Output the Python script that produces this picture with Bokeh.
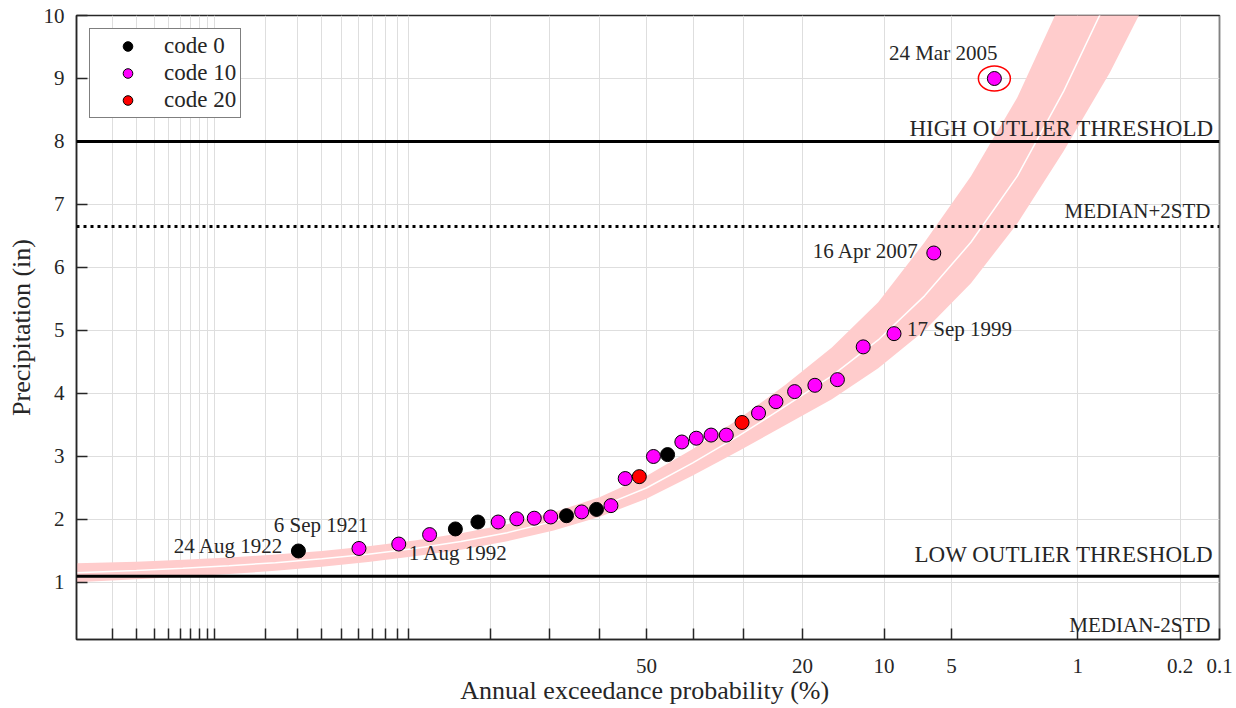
from statistics import NormalDist
from bokeh.plotting import figure
from bokeh.models import Range1d, FixedTicker, Span, Legend, LegendItem
from bokeh.core.properties import value
from bokeh.embed import file_html
from bokeh.resources import INLINE

# ---------------- data ----------------
exceed_pct = [96.97, 93.94, 90.91, 87.88, 84.85, 81.82, 78.79, 75.76, 72.73, 69.70,
              66.67, 63.64, 60.61, 57.58, 54.55, 51.52, 48.48, 45.45, 42.42, 39.39,
              36.36, 33.33, 30.30, 27.27, 24.24, 21.21, 18.18, 15.15, 12.12, 9.09,
              6.06, 3.03]
precip_in = [1.50, 1.54, 1.61, 1.76, 1.85, 1.96, 1.96, 2.01, 2.02, 2.04,
             2.06, 2.12, 2.16, 2.22, 2.65, 2.68, 3.00, 3.03, 3.23, 3.29,
             3.34, 3.34, 3.54, 3.69, 3.87, 4.03, 4.13, 4.22, 4.74, 4.95,
             6.23, 9.00]
codes = [0, 10, 10, 10, 0, 0, 10, 10, 10, 10,
         0, 10, 0, 10, 10, 20, 10, 0, 10, 10,
         10, 10, 20, 10, 10, 10, 10, 10, 10, 10,
         10, 10]

annot_text = ["24 Aug 1922", "6 Sep 1921", "1 Aug 1992", "17 Sep 1999", "16 Apr 2007", "24 Mar 2005"]
annot_point = [0, 1, 2, 29, 30, 31]
highlight_point = 31

# fitted frequency curve and its confidence band (exceedance %, inches)
curve_pct = [99.894, 99.702, 99.379, 98.778, 97.725, 95.994, 93.319, 89.435, 84.134, 77.337,
             69.146, 59.871, 50.0, 40.129, 30.854, 22.663, 15.866, 10.565, 6.681, 4.006,
             2.275, 1.222, 0.621, 0.298]
curve_mid = [1.155, 1.19, 1.225, 1.265, 1.315, 1.375, 1.45, 1.54, 1.65, 1.79,
             1.97, 2.20, 2.50, 2.90, 3.33, 3.80, 4.28, 4.85, 5.55, 6.40,
             7.45, 8.80, 10.35, 12.10]
curve_up = [1.305, 1.33, 1.36, 1.395, 1.445, 1.50, 1.575, 1.665, 1.78, 1.925,
            2.115, 2.355, 2.69, 3.12, 3.60, 4.14, 4.73, 5.45, 6.40, 7.45,
            8.70, 10.30, 12.10, 14.10]
curve_low = [1.005, 1.05, 1.09, 1.135, 1.185, 1.25, 1.325, 1.415, 1.52, 1.655,
             1.825, 2.045, 2.33, 2.70, 3.09, 3.50, 3.91, 4.40, 5.00, 5.75,
             6.70, 7.85, 9.10, 10.55]

high_outlier = 8.0
low_outlier = 1.10
median_plus_2std = 6.65
median_minus_2std = 0.095

tick_pct = [99.8, 99.7, 99.6, 99.5, 99.4, 99.3, 99.2, 99.1, 99, 98, 97, 96, 95, 94, 93, 92, 91, 90,
            80, 70, 60, 50, 40, 30, 20, 10, 5, 1, 0.2, 0.1]
tick_text = ["", "", "", "", "", "", "", "", "", "", "", "", "", "", "", "", "", "",
             "", "", "", "50", "", "", "20", "10", "5", "1", "0.2", "0.1"]
xlim_pct = [99.894, 0.1]
y_ticks = [1, 2, 3, 4, 5, 6, 7, 8, 9, 10]
y_max = 10

# ---------------- helpers ----------------
nd = NormalDist()


def zq(p):
    return nd.inv_cdf(1 - p / 100.0)


FONT = "Liberation Serif"
AX = "#262626"

xs = [zq(p) for p in exceed_pct]
cz = [zq(p) for p in curve_pct]

p = figure(width=1236, height=708, output_backend="svg", toolbar_location=None,
           title=None,
           x_range=Range1d(zq(xlim_pct[0]), zq(xlim_pct[1]) + 1e-9),
           y_range=Range1d(median_minus_2std, y_max),
           min_border_left=76, min_border_right=17, min_border_top=15, min_border_bottom=69)
p.background_fill_color = "white"
p.border_fill_color = "white"
p.outline_line_color = AX
p.outline_line_width = 1.5

# axes
tick_z = [zq(t) for t in tick_pct]
p.xaxis.ticker = FixedTicker(ticks=tick_z)
p.xaxis.major_label_overrides = {z: s for z, s in zip(tick_z, tick_text)}
p.yaxis.ticker = FixedTicker(ticks=y_ticks)
for ax in (p.xaxis[0], p.yaxis[0]):
    ax.major_tick_in = 11
    ax.major_tick_out = 0
    ax.minor_tick_in = 0
    ax.minor_tick_out = 0
    ax.axis_line_color = AX
    ax.axis_line_width = 1.5
    ax.major_tick_line_color = AX
    ax.major_tick_line_width = 1.5
    ax.major_label_text_font = FONT
    ax.major_label_text_font_size = "21px"
    ax.major_label_text_color = AX
    ax.axis_label_text_font = FONT
    ax.axis_label_text_font_size = "26px"
    ax.axis_label_text_font_style = "normal"
    ax.axis_label_text_color = AX
p.xaxis.major_label_standoff = 19
p.yaxis.major_label_standoff = 12
p.yaxis.axis_label = "Precipitation (in)"
p.yaxis.axis_label_standoff = 5
p.xaxis.axis_label = "Annual  exceedance probability (%)"
p.xaxis.axis_label_standoff = 0

p.grid.grid_line_color = "#dedede"
p.grid.grid_line_width = 1

# band and fitted curve
p.varea(x=cz, y1=curve_low, y2=curve_up, fill_color="#ffcccc", fill_alpha=1.0)
p.line(x=cz, y=curve_mid, line_color="white", line_width=1.5)

# threshold lines
p.add_layout(Span(location=high_outlier, dimension="width", line_color="black", line_width=3))
p.add_layout(Span(location=low_outlier, dimension="width", line_color="black", line_width=3))
p.add_layout(Span(location=median_plus_2std, dimension="width", line_color="black",
                  line_width=3, line_dash="3 4"))

xr = zq(xlim_pct[1])
p.text(x=[xr, xr], y=[high_outlier, low_outlier],
       text=["HIGH OUTLIER THRESHOLD", "LOW OUTLIER THRESHOLD"],
       x_offset=-6, y_offset=[-13, -22], text_align="right", text_baseline="middle",
       text_font=value(FONT), text_font_size="23px", text_color=AX)
p.text(x=[xr, xr], y=[median_plus_2std, median_minus_2std],
       text=["MEDIAN+2STD", "MEDIAN-2STD"],
       x_offset=-9, y_offset=[-16, -15], text_align="right", text_baseline="middle",
       text_font=value(FONT), text_font_size="21px", text_color=AX)

# points
colors = {0: "black", 10: "#ff00ff", 20: "#ff0000"}
renderers = {}
for c in (0, 10, 20):
    px = [x for x, k in zip(xs, codes) if k == c]
    py = [y for y, k in zip(precip_in, codes) if k == c]
    renderers[c] = p.scatter(x=px, y=py, size=14, fill_color=colors[c],
                             line_color="black", line_width=1)

# highlight ellipse
p.ellipse(x=[xs[highlight_point]], y=[precip_in[highlight_point]], width=32, height=25,
          width_units="screen", height_units="screen", fill_color=None,
          line_color="red", line_width=1.5)

# annotations
annot_dx = [-15, -38, 10, 13, -15, 3]
annot_dy = [-5, -23, 9, -5, -2, -25]
annot_align = ["right", "center", "left", "left", "right", "right"]
for t, i, dx, dy, al in zip(annot_text, annot_point, annot_dx, annot_dy, annot_align):
    p.text(x=[xs[i]], y=[precip_in[i]], text=[t], x_offset=dx, y_offset=dy,
           text_align=al, text_baseline="middle", text_font=value(FONT),
           text_font_size="21px", text_color=AX)

legend = Legend(items=[LegendItem(label="code 0", renderers=[renderers[0]]),
                       LegendItem(label="code 10", renderers=[renderers[10]]),
                       LegendItem(label="code 20", renderers=[renderers[20]])],
                location="top_left", margin=13, padding=4, spacing=1,
                glyph_width=67, glyph_height=24, label_height=24, label_standoff=3,
                border_line_color="black", border_line_width=1,
                background_fill_color="white", background_fill_alpha=1.0,
                label_text_font=FONT, label_text_font_size="23px", label_text_color=AX)
p.add_layout(legend)

open("out.html", "w").write(file_html(p, INLINE))
